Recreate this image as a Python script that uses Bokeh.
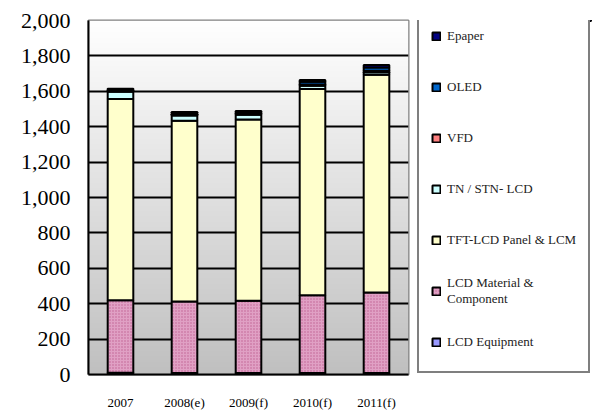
import numpy as np
from bokeh.plotting import figure
from bokeh.layouts import row
from bokeh.models import (FactorRange, Range1d, NumeralTickFormatter, Legend,
                          LegendItem, FixedTicker, ColumnDataSource)
from bokeh.embed import file_html
from bokeh.resources import INLINE

years = ["2007", "2008(e)", "2009(f)", "2010(f)", "2011(f)"]

lcd_equipment = [10, 8, 8, 8, 8]
lcd_material = [410, 405, 408, 440, 455]
tft_lcd = [1137, 1020, 1025, 1165, 1230]
tn_stn_lcd = [40, 30, 27, 18, 15]
vfd = [8, 7, 7, 8, 8]
oled = [8, 10, 10, 15, 18]
epaper = [2, 3, 4, 10, 15]

series_keys = ["equip", "material", "tft", "tn", "vfd", "oled", "epaper"]
series_labels = ["LCD Equipment", "LCD Material &\nComponent",
                 "TFT-LCD Panel & LCM", "TN / STN- LCD", "VFD", "OLED", "Epaper"]
series_colors = ["#9999ff", "#e0a0c4", "#ffffcc", "#ccffff", "#ff8080",
                 "#0066cc", "#000080"]
series_hatch = [" ", "dot", " ", " ", " ", " ", " "]

y_ticks = list(range(0, 2001, 200))

source = ColumnDataSource(dict(
    year=years, equip=lcd_equipment, material=lcd_material, tft=tft_lcd,
    tn=tn_stn_lcd, vfd=vfd, oled=oled, epaper=epaper))

p = figure(x_range=FactorRange(*years, range_padding=0),
           y_range=Range1d(0, 2000),
           width=410, height=412,
           min_border_left=88, min_border_top=20, min_border_right=2,
           min_border_bottom=31,
           output_backend="svg", toolbar_location=None)

# background gradient (white at top to grey at bottom)
n = 200
t = np.linspace(0, 1, n)  # 0 bottom, 1 top
lvl = (192 + (255 - 192) * t).astype(np.uint32)
img = np.zeros((n, 1), dtype=np.uint32)
view = img.view(dtype=np.uint8).reshape((n, 1, 4))
view[:, 0, 0] = lvl
view[:, 0, 1] = lvl
view[:, 0, 2] = lvl
view[:, 0, 3] = 255
p.image_rgba(image=[img], x=0, y=0, dw=len(years), dh=2000, level="image")

bar_style = dict(line_color="black", line_width=2, hatch_color="#c06090",
                 hatch_scale=3, hatch_weight=1.5)
p.vbar_stack(series_keys, x="year", width=0.4, source=source,
             fill_color=series_colors, hatch_pattern=series_hatch, **bar_style)

p.outline_line_color = "#808080"
p.outline_line_width = 2
p.background_fill_color = "white"
p.border_fill_color = "white"

p.xgrid.visible = False
p.ygrid.ticker = FixedTicker(ticks=y_ticks[1:-1])
p.ygrid.grid_line_color = "black"
p.ygrid.grid_line_width = 2

p.yaxis.ticker = FixedTicker(ticks=y_ticks)
p.yaxis.formatter = NumeralTickFormatter(format="0,0")
p.yaxis.major_label_text_font = "Liberation Serif"
p.yaxis.major_label_text_font_size = "22px"
p.yaxis.major_label_text_color = "black"
p.yaxis.major_label_standoff = 18
p.yaxis.major_tick_in = 0
p.yaxis.major_tick_out = 0
p.yaxis.minor_tick_line_color = None
p.yaxis.axis_line_color = "black"
p.yaxis.axis_line_width = 2

p.xaxis.major_label_text_font = "Liberation Serif"
p.xaxis.major_label_text_font_size = "13px"
p.xaxis.major_label_text_color = "black"
p.xaxis.major_label_standoff = 14
p.xaxis.major_tick_line_color = None
p.xaxis.axis_line_color = "black"
p.xaxis.axis_line_width = 2

# legend panel: a separate figure (same series, drawn outside its visible range)
pl = figure(width=192, height=412, x_range=FactorRange(*years),
            y_range=Range1d(-2, -1),
            min_border=0, min_border_left=0, min_border_right=0,
            min_border_top=0, min_border_bottom=0,
            x_axis_location=None, y_axis_location=None,
            output_backend="svg", toolbar_location=None)
pl.grid.visible = False
pl.outline_line_color = None
pl.background_fill_color = "white"
pl.border_fill_color = "white"

leg_renderers = pl.vbar_stack(series_keys, x="year", width=0.4, source=source,
                              fill_color=series_colors,
                              hatch_pattern=series_hatch, **bar_style)

items = [LegendItem(label=lab, renderers=[r])
         for lab, r in zip(series_labels, leg_renderers)][::-1]

legend = Legend(items=items, location=(7, 1), orientation="vertical",
                margin=0, padding=12, spacing=17,
                glyph_width=10, glyph_height=10, label_standoff=6,
                label_width=128, label_height=34,
                label_text_font="Liberation Serif", label_text_font_size="13px",
                label_text_color="#222222",
                border_line_color="black", border_line_width=2,
                background_fill_color="white", background_fill_alpha=1)
pl.add_layout(legend, "center")

layout = row(p, pl, spacing=0)
open("out.html", "w").write(file_html(layout, INLINE))
